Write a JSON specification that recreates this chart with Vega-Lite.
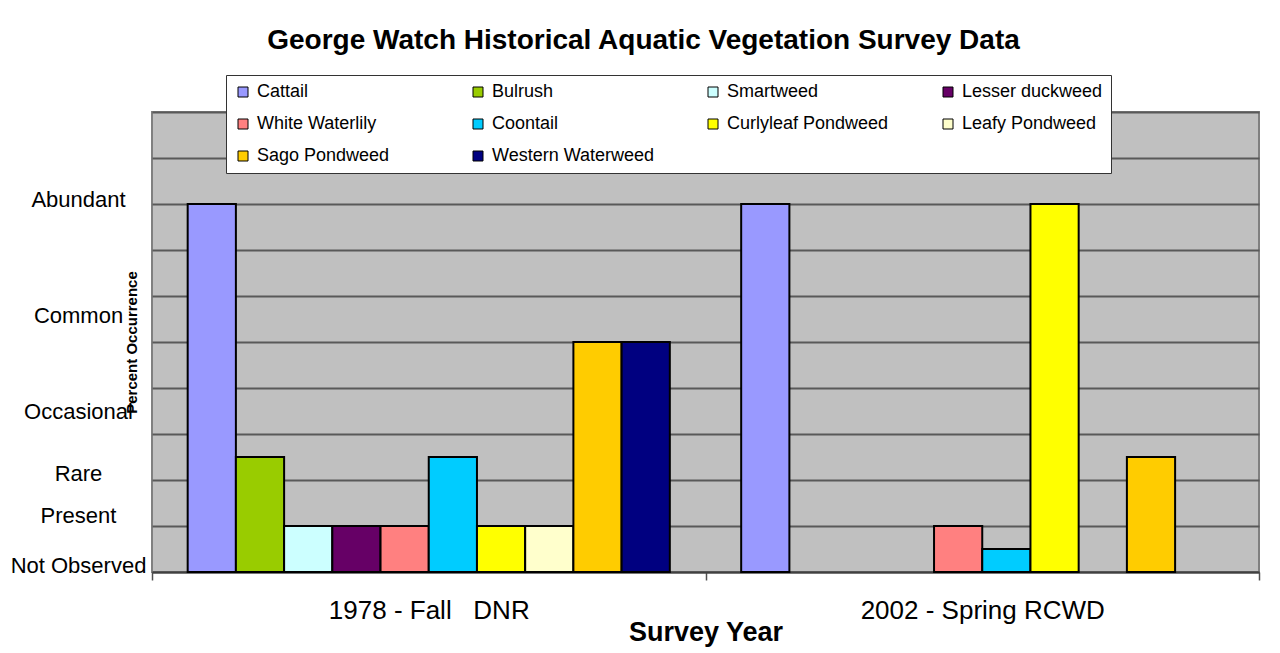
{
  "$schema": "https://vega.github.io/schema/vega-lite/v6.json",
  "autosize": {"type": "none"},
  "width": 1107,
  "height": 460,
  "padding": {"left": 152, "top": 112, "right": 21, "bottom": 81},
  "background": "white",
  "title": {
    "text": "George Watch Historical Aquatic Vegetation Survey Data",
    "font": "Liberation Sans",
    "fontSize": 28,
    "fontWeight": "bold",
    "color": "black",
    "anchor": "middle",
    "frame": "group",
    "dx": -62,
    "offset": 20
  },
  "config": {
    "view": {"fill": "#C0C0C0", "stroke": "#808080", "strokeWidth": 2},
    "font": "Liberation Sans"
  },
  "data": {
    "values": [
      {"survey": "1978 - Fall\u00a0\u00a0\u00a0DNR", "species": "Cattail", "level": 8},
      {"survey": "1978 - Fall\u00a0\u00a0\u00a0DNR", "species": "Bulrush", "level": 2.5},
      {"survey": "1978 - Fall\u00a0\u00a0\u00a0DNR", "species": "Smartweed", "level": 1},
      {"survey": "1978 - Fall\u00a0\u00a0\u00a0DNR", "species": "Lesser duckweed", "level": 1},
      {"survey": "1978 - Fall\u00a0\u00a0\u00a0DNR", "species": "White Waterlily", "level": 1},
      {"survey": "1978 - Fall\u00a0\u00a0\u00a0DNR", "species": "Coontail", "level": 2.5},
      {"survey": "1978 - Fall\u00a0\u00a0\u00a0DNR", "species": "Curlyleaf Pondweed", "level": 1},
      {"survey": "1978 - Fall\u00a0\u00a0\u00a0DNR", "species": "Leafy Pondweed", "level": 1},
      {"survey": "1978 - Fall\u00a0\u00a0\u00a0DNR", "species": "Sago Pondweed", "level": 5},
      {"survey": "1978 - Fall\u00a0\u00a0\u00a0DNR", "species": "Western Waterweed", "level": 5},
      {"survey": "2002 - Spring RCWD", "species": "Cattail", "level": 8},
      {"survey": "2002 - Spring RCWD", "species": "White Waterlily", "level": 1},
      {"survey": "2002 - Spring RCWD", "species": "Coontail", "level": 0.5},
      {"survey": "2002 - Spring RCWD", "species": "Curlyleaf Pondweed", "level": 8},
      {"survey": "2002 - Spring RCWD", "species": "Sago Pondweed", "level": 2.5}
    ]
  },
  "mark": {"type": "bar", "stroke": "black", "strokeWidth": 2},
  "encoding": {
    "x": {
      "field": "survey",
      "type": "nominal",
      "scale": {"domain": ["1978 - Fall\u00a0\u00a0\u00a0DNR", "2002 - Spring RCWD"], "paddingInner": 0, "paddingOuter": 0},
      "axis": {
        "title": "Survey Year",
        "labelAngle": 0,
        "labelLimit": 500,
        "tickBand": "extent",
        "tickSize": 8, "tickColor": "#505050", "tickWidth": 1.5,
        "domainColor": "#404040", "domainWidth": 2,
        "labelPadding": 17,
        "labelFont": "Liberation Sans", "labelFontSize": 26, "labelColor": "black",
        "titleFont": "Liberation Sans", "titleFontSize": 27, "titleFontWeight": "bold", "titleColor": "black",
        "titlePadding": -4
      }
    },
    "xOffset": {
      "field": "species",
      "type": "nominal",
      "scale": {
        "domain": ["Cattail", "Bulrush", "Smartweed", "Lesser duckweed", "White Waterlily", "Coontail", "Curlyleaf Pondweed", "Leafy Pondweed", "Sago Pondweed", "Western Waterweed"],
        "paddingInner": 0,
        "paddingOuter": 0.74
      }
    },
    "y": {
      "field": "level",
      "type": "quantitative",
      "scale": {"domain": [0, 10], "nice": false},
      "axis": {
        "title": "Percent Occurrence",
        "values": [0, 1, 2, 3, 4, 5, 6, 7, 8, 9, 10, 0.15, 1.22, 2.15, 3.48, 5.57, 8.09],
        "labelExpr": "datum.value % 1 === 0 ? '' : datum.value < 0.5 ? 'Not Observed' : datum.value < 1.5 ? 'Present' : datum.value < 3 ? 'Rare' : datum.value < 4 ? 'Occasional' : datum.value < 7 ? 'Common' : 'Abundant'",
        "labelOverlap": false,
        "grid": true,
        "gridColor": "#595959",
        "gridWidth": 2,
        "gridOpacity": {"condition": {"test": "datum.value % 1 === 0", "value": 1}, "value": 0},
        "ticks": false, "domain": false,
        "labelAlign": "center", "labelBaseline": "middle", "labelPadding": 74,
        "labelFont": "Liberation Sans", "labelFontSize": 22, "labelColor": "black",
        "titleFont": "Liberation Sans", "titleFontSize": 15, "titleFontWeight": "bold", "titleColor": "black",
        "titleAngle": -90, "titleX": -21, "titleY": 230, "titleAlign": "center", "titleBaseline": "middle"
      }
    },
    "color": {
      "field": "species",
      "type": "nominal",
      "scale": {
        "domain": ["Cattail", "Bulrush", "Smartweed", "Lesser duckweed", "White Waterlily", "Coontail", "Curlyleaf Pondweed", "Leafy Pondweed", "Sago Pondweed", "Western Waterweed"],
        "range": ["#9999FF", "#99CC00", "#CCFFFF", "#660066", "#FF8080", "#00CCFF", "#FFFF00", "#FFFFCC", "#FFCC00", "#000080"]
      },
      "legend": {
        "title": null,
        "orient": "none",
        "legendX": 74,
        "legendY": -37,
        "direction": "horizontal",
        "columns": 4,
        "gridAlign": "all",
        "columnPadding": 49,
        "rowPadding": 14,
        "padding": 8,
        "fillColor": "white",
        "strokeColor": "#333333",
        "symbolType": "square",
        "symbolSize": 100,
        "symbolStrokeColor": "black",
        "symbolStrokeWidth": 1,
        "labelFont": "Liberation Sans",
        "labelFontSize": 18,
        "labelColor": "black",
        "labelOffset": 5,
        "labelLimit": 300
      }
    }
  }
}
